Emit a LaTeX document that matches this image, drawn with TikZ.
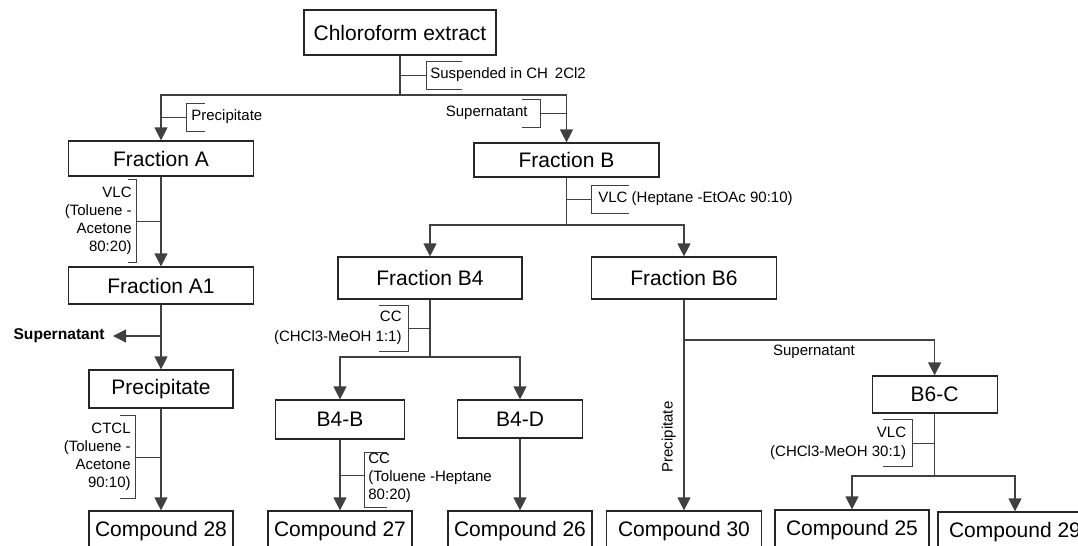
\documentclass[tikz,border=0pt]{standalone}
\usepackage{fontspec}
\setmainfont{Liberation Sans}
\usetikzlibrary{arrows.meta}
\begin{document}
\begin{tikzpicture}[x=0.5pt,y=-0.5pt,
  box/.style={draw=black!85, line width=0.6pt, inner sep=0pt, font=\fontsize{10.5}{12}\selectfont},
  note/.style={inner sep=0pt, font=\fontsize{7.5}{9}\selectfont},
  link/.style={draw=black!75, line width=0.6pt},
  flow/.style={link, -{Triangle[length=6.5pt,width=6.5pt]}},
  brace/.style={draw=black!75, line width=0.5pt}]
\useasboundingbox (0,0) rectangle (1078,546);
\clip (0,0) rectangle (1078,546);
% boxes
\node[box, minimum width=96pt, minimum height=22.5pt] (ce) at (400,32.5) {Chloroform extract};
\node[box, minimum width=92.5pt, minimum height=17.5pt] (fa) at (161,158.5) {Fraction A};
\node[box, minimum width=92.5pt, minimum height=17pt] (fb) at (566.5,160) {Fraction B};
\node[box, minimum width=92.5pt, minimum height=18.5pt] (fa1) at (161,285.5) {Fraction A1};
\node[box, minimum width=92pt, minimum height=21pt] (fb4) at (430,278) {Fraction B4};
\node[box, minimum width=92.5pt, minimum height=21pt] (fb6) at (684,278) {Fraction B6};
\node[box, minimum width=72pt, minimum height=19pt] (pre) at (161,389) {Precipitate};
\node[box, minimum width=64.5pt, minimum height=19.5pt] (b4b) at (340,419.5) {B4-B};
\node[box, minimum width=62.5pt, minimum height=19pt] (b4d) at (520,419) {B4-D};
\node[box, minimum width=62.5pt, minimum height=18.5pt] (b6c) at (934.6,394.5) {B6-C};
\node[box, minimum width=72pt, minimum height=20pt] (c28) at (161,531) {Compound 28};
\node[box, minimum width=72pt, minimum height=20pt] (c27) at (340,531) {Compound 27};
\node[box, minimum width=72pt, minimum height=20pt] (c26) at (520,531) {Compound 26};
\node[box, minimum width=77.5pt, minimum height=20pt] (c30) at (684,531) {Compound 30};
\node[box, minimum width=77pt, minimum height=20pt] (c25) at (852,530) {Compound 25};
\node[box, minimum width=77pt, minimum height=20pt] (c29) at (1015,532) {Compound 29};
% split points
\coordinate (s0) at (400,95);
\coordinate (s1) at (161,336);
\coordinate (s2) at (566.5,225);
\coordinate (s3) at (430,357);
\coordinate (s4) at (684,340);
\coordinate (s5) at (934.6,476);
% chloroform extract
\draw[link] (ce) -- (s0);
\draw[flow] (s0) -| (fa.north);
\draw[flow] (s0) -| (fb.north);
\draw[brace] (400,75) -- (426,75) (462,61) -- (426,61) -- (426,89) -- (462,89);
\node[note, anchor=west] (susp) at (430,75) {Suspended in CH\hspace{3.5pt}2Cl2};
\draw[brace] (161,117) -- (186,117) (205,103) -- (186,103) -- (186,131) -- (205,131);
\node[note, anchor=west] (lpa) at (191,117) {Precipitate};
\draw[brace] (566.5,113) -- (540,113) (522,99) -- (540,99) -- (540,127) -- (522,127);
\node[note, anchor=east] (lsb) at (528,113) {Supernatant};
% fraction A
\draw[flow] (fa) -- (fa1);
\draw[brace] (161,221) -- (136,221) (128,179) -- (136,179) -- (136,262) -- (128,262);
\node[note, anchor=east, align=right] (lva) at (132,221) {VLC\\(Toluene -\\Acetone\\80:20)};
\draw[flow] (fa1) -- (pre);
\node[note, anchor=east, inner xsep=4pt, font=\fontsize{7.8}{9}\selectfont\bfseries] (supa) at (113,336) {Supernatant};
\draw[flow] (s1) -- (supa.east);
\draw[flow] (pre) -- (c28);
\draw[brace] (161,457) -- (135,457) (120,415) -- (135,415) -- (135,498) -- (120,498);
\node[note, anchor=east, align=right] (lct) at (131,457) {CTCL\\(Toluene -\\Acetone\\90:10)};
% fraction B
\draw[link] (fb) -- (s2);
\draw[flow] (s2) -| (fb4.north);
\draw[flow] (s2) -| (fb6.north);
\draw[brace] (566.5,199) -- (591.5,199) (629,185) -- (591.5,185) -- (591.5,213) -- (629,213);
\node[note, anchor=west] (lvb) at (598,199) {VLC (Heptane -EtOAc 90:10)};
% fraction B4
\draw[link] (fb4) -- (s3);
\draw[flow] (s3) -| (b4b.north);
\draw[flow] (s3) -| (b4d.north);
\draw[brace] (430,328) -- (408,328) (379,305) -- (408,305) -- (408,351) -- (379,351);
\node[note, anchor=east, align=right, font=\fontsize{7.5}{10}\selectfont] (lcc) at (402,328) {CC\\(CHCl3-MeOH 1:1)};
\draw[flow] (b4b) -- (c27);
\draw[brace] (340,475) -- (364,475) (387,452) -- (364,452) -- (364,507) -- (387,507);
\node[note, anchor=west, align=left] (lcb) at (368,478) {CC\\(Toluene -Heptane\\80:20)};
\draw[flow] (b4d) -- (c26);
% fraction B6
\draw[flow] (fb6) -- (c30);
\draw[flow] (s4) -| (b6c.north);
\node[note] (lsc) at (814,352) {Supernatant};
\node[note, rotate=90] (lpc) at (668.7,437) {Precipitate};
\draw[link] (b6c) -- (s5);
\draw[flow] (s5) -| (c25.north);
\draw[flow] (s5) -| (c29.north);
\draw[brace] (934.6,443) -- (912,443) (883,419) -- (912,419) -- (912,466) -- (883,466);
\node[note, anchor=east, align=right, font=\fontsize{7.5}{9.5}\selectfont] (lvc) at (906.5,443) {VLC\\(CHCl3-MeOH 30:1)};
\end{tikzpicture}
\end{document}
